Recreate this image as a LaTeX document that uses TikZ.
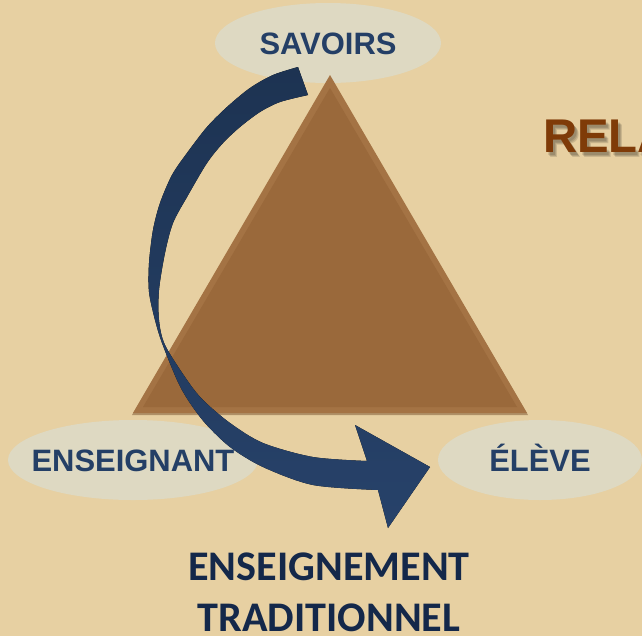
\documentclass[tikz,border=0pt]{standalone}
\usepackage{fontspec}
\usepackage{xcolor}
\usetikzlibrary{shapes.geometric}
\setmainfont{Liberation Sans}
\newfontfamily\calibri{Carlito}

\definecolor{parchemin}{RGB}{231,208,162}
\definecolor{bullefond}{RGB}{222,217,194}
\definecolor{brun}{RGB}{154,105,59}
\definecolor{brunclair}{RGB}{164,115,68}
\definecolor{brunfonce}{RGB}{120,82,46}
\definecolor{marine}{RGB}{36,63,102}
\definecolor{marinefonce}{RGB}{20,40,74}
\definecolor{flechehaut}{RGB}{29,51,82}
\definecolor{flechebas}{RGB}{39,66,106}
\definecolor{rouille}{RGB}{127,59,8}

\tikzset{
	bulle/.style={ellipse, fill=bullefond, draw=none, inner sep=0pt, minimum height=2.4cm},
	etiquette/.style={text=marine, font=\fontsize{26.4}{30}\selectfont\bfseries, inner sep=0pt, text height=0.66cm, text depth=0pt},
	titrefont/.style={anchor=base west, inner sep=0pt, font=\fontsize{40.4}{46}\selectfont\bfseries},
}

\begin{document}
\begin{tikzpicture}[x=0.03cm, y=-0.03cm]
	\useasboundingbox (0,0) rectangle (642,636);
	\clip (0,0) rectangle (642,636);
	\fill[parchemin] (0,0) rectangle (642,636);

	\node[bulle, minimum width=6.78cm] (savoirs) at (328,43) {};
	\node[bulle, minimum width=7.5cm] (enseignant) at (133,460) {};
	\node[bulle, minimum width=6.12cm] (eleve) at (540,460) {};

	% triangle
	\coordinate (sommet) at (330,75);
	\coordinate (gauche) at (133,413);
	\coordinate (droite) at (527,413);
	\fill[brunfonce, opacity=0.5] (330,77) -- (528,415) -- (132,415) -- cycle;
	\fill[brunclair] (sommet) -- (droite) -- (gauche) -- cycle;
	\fill[brun] (330,88) -- (517,407) -- (143,407) -- cycle;

	% fleche
	\fill[top color=flechehaut, bottom color=flechebas]
		plot[smooth, tension=0.5] coordinates {(298,67) (273,75) (250,88) (227,107) (207,127) (187,153) (172,175) (160,203) (153,230) (149,263) (149,292) (155,320) (162,343) (177,380) (188,400) (205,423) (230,447) (263,467) (313,485) (378,490)}
		-- (388,528) -- (430,467) -- (355,425) -- (367,461)
		-- plot[smooth, tension=0.5] coordinates {(367,461) (313,457) (263,443) (230,423) (203,400) (187,380) (165,345) (159,320) (159,290) (165,253) (173,223) (187,197) (207,163) (223,143) (240,127) (260,112) (280,102) (308,95)}
		-- cycle;

	\node[etiquette] (savoirs-txt) at (savoirs) {SAVOIRS};
	\node[etiquette] (enseignant-txt) at (enseignant) {ENSEIGNANT};
	\node[etiquette] (eleve-txt) at (eleve) {ÉLÈVE};

	\foreach \dx/\dy in {2/3, 3/4, 4/5}
		\node[titrefont, text=black, opacity=0.12] at (543+\dx,152+\dy) {RELA};
	\node[titrefont, text=rouille] (titre) at (543,152) {RELA};

	\node[text=marinefonce, font=\calibri\bfseries\fontsize{36}{43.5}\selectfont, align=center, anchor=base, inner sep=0pt] (legende) at (329,631) {ENSEIGNEMENT\\TRADITIONNEL};
\end{tikzpicture}
\end{document}
